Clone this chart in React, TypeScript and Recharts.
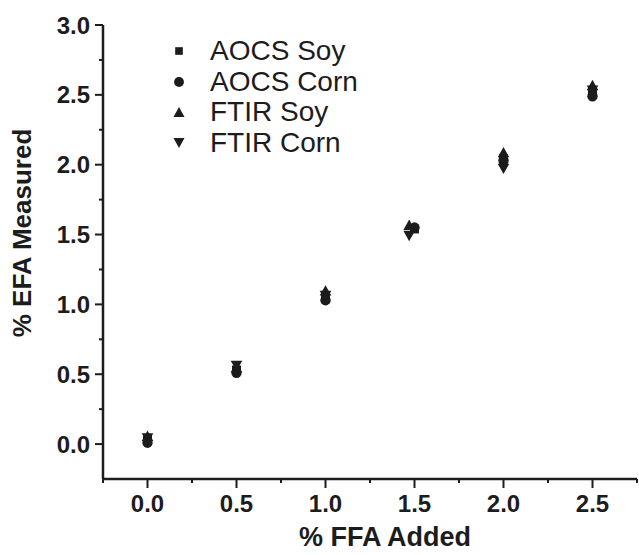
import { ScatterChart, Scatter, XAxis, YAxis, Legend, Label } from 'recharts';

// % FFA added (x) for each sample level
const ffaAdded = [0, 0.5, 1.0, 1.5, 2.0, 2.5];
const ftirAdded = [0, 0.5, 1.0, 1.47, 2.0, 2.5];

// % EFA measured (y)
const aocsSoy = [0.03, 0.53, 1.04, 1.54, 2.04, 2.51];
const aocsCorn = [0.01, 0.51, 1.03, 1.55, 2.03, 2.49];
const ftirSoy = [0.06, 0.55, 1.1, 1.57, 2.09, 2.57];
const ftirCorn = [0.04, 0.56, 1.06, 1.49, 1.97, 2.53];

const xTicks = [-0.25, 0, 0.25, 0.5, 0.75, 1.0, 1.25, 1.5, 1.75, 2.0, 2.25, 2.5, 2.75];
const yTicks = [0, 0.25, 0.5, 0.75, 1.0, 1.25, 1.5, 1.75, 2.0, 2.25, 2.5, 2.75, 3.0];

type Kind = 'square' | 'circle' | 'up' | 'down';

const series: { name: string; kind: Kind; xs: number[]; ys: number[] }[] = [
  { name: 'AOCS Soy', kind: 'square', xs: ffaAdded, ys: aocsSoy },
  { name: 'AOCS Corn', kind: 'circle', xs: ffaAdded, ys: aocsCorn },
  { name: 'FTIR Soy', kind: 'up', xs: ftirAdded, ys: ftirSoy },
  { name: 'FTIR Corn', kind: 'down', xs: ftirAdded, ys: ftirCorn },
];

const INK = '#1c1c1c';
const FONT = '"Liberation Sans", Arial, Helvetica, sans-serif';

function Marker({ kind, cx, cy, s = 1 }: { kind: Kind; cx: number; cy: number; s?: number }) {
  if (kind === 'square') {
    const h = 4.5 * s;
    return <rect x={cx - h} y={cy - h} width={h * 2} height={h * 2} fill={INK} />;
  }
  if (kind === 'circle') return <circle cx={cx} cy={cy} r={5.2 * s} fill={INK} />;
  const w = 5.8 * s;
  const h = 5.2 * s;
  if (kind === 'up') {
    return <path d={`M${cx},${cy - h} L${cx + w},${cy + h} L${cx - w},${cy + h} Z`} fill={INK} />;
  }
  return <path d={`M${cx - w},${cy - h} L${cx + w},${cy - h} L${cx},${cy + h} Z`} fill={INK} />;
}

const isMajor = (v: number) => Math.abs(v * 2 - Math.round(v * 2)) < 1e-6;

const YTick = (props: any) => {
  const { x, y, payload } = props;
  const major = isMajor(payload.value);
  const len = major ? 8 : 4;
  return (
    <g>
      <line x1={x - len} x2={x} y1={y} y2={y} stroke={INK} strokeWidth={2} />
      {major && (
        <text
          x={x - 13}
          y={y}
          textAnchor="end"
          dominantBaseline="central"
          fontFamily={FONT}
          fontWeight={700}
          fontSize={24}
          fill={INK}
        >
          {payload.value.toFixed(1)}
        </text>
      )}
    </g>
  );
};

const XTick = (props: any) => {
  const { x, y, payload } = props;
  const major = isMajor(payload.value);
  const len = major ? 9 : 4;
  return (
    <g>
      <line x1={x} x2={x} y1={y} y2={y + len} stroke={INK} strokeWidth={2} />
      {major && (
        <text x={x} y={y + 33} textAnchor="middle" fontFamily={FONT} fontWeight={700} fontSize={24} fill={INK}>
          {payload.value.toFixed(1)}
        </text>
      )}
    </g>
  );
};

const renderLegend = () => (
  <div style={{ fontFamily: FONT, fontSize: 28, color: INK }}>
    {series.map((s) => (
      <div key={s.name} style={{ display: 'flex', alignItems: 'center', height: 30.5 }}>
        <svg width={30} height={30} style={{ display: 'block' }}>
          <Marker kind={s.kind} cx={15} cy={15} s={s.kind === 'square' ? 0.85 : 0.95} />
        </svg>
        <span style={{ marginLeft: 16, lineHeight: '30px' }}>{s.name}</span>
      </div>
    ))}
  </div>
);

export default function App() {
  return (
    <div style={{ position: 'absolute', left: 0, top: 0, background: '#fff' }}>
      <ScatterChart width={639} height={555} margin={{ top: 25, right: 2, bottom: 0, left: 3 }}>
        <XAxis
          type="number"
          dataKey="x"
          domain={[-0.25, 2.75]}
          ticks={xTicks}
          interval={0}
          height={76}
          tickSize={0}
          tickMargin={0}
          tickLine={false}
          tick={<XTick />}
          axisLine={{ stroke: INK, strokeWidth: 2.5 }}
          allowDataOverflow
        >
          <Label
            content={() => (
              <text x={385} y={546} textAnchor="middle" fontFamily={FONT} fontWeight={700} fontSize={27} fill={INK}>
                % FFA Added
              </text>
            )}
          />
        </XAxis>
        <YAxis
          type="number"
          dataKey="y"
          domain={[-0.25, 3.0]}
          ticks={yTicks}
          interval={0}
          width={100}
          tickSize={0}
          tickMargin={0}
          tickLine={false}
          tick={<YTick />}
          axisLine={{ stroke: INK, strokeWidth: 2.5 }}
          allowDataOverflow
        >
          <Label
            content={() => (
              <text
                x={22}
                y={233}
                transform="rotate(-90 22 233)"
                textAnchor="middle"
                dominantBaseline="central"
                fontFamily={FONT}
                fontWeight={700}
                fontSize={26}
                fill={INK}
              >
                % EFA Measured
              </text>
            )}
          />
        </YAxis>
        <Legend
          layout="vertical"
          align="center"
          verticalAlign="middle"
          content={renderLegend}
          wrapperStyle={{ left: 164, top: 36, width: 'auto' }}
        />
        {series.map((s) => (
          <Scatter
            key={s.name}
            name={s.name}
            data={s.xs.map((x, i) => ({ x, y: s.ys[i] }))}
            isAnimationActive={false}
            shape={(p: any) => <Marker kind={s.kind} cx={p.cx} cy={p.cy} />}
          />
        ))}
      </ScatterChart>
    </div>
  );
}
